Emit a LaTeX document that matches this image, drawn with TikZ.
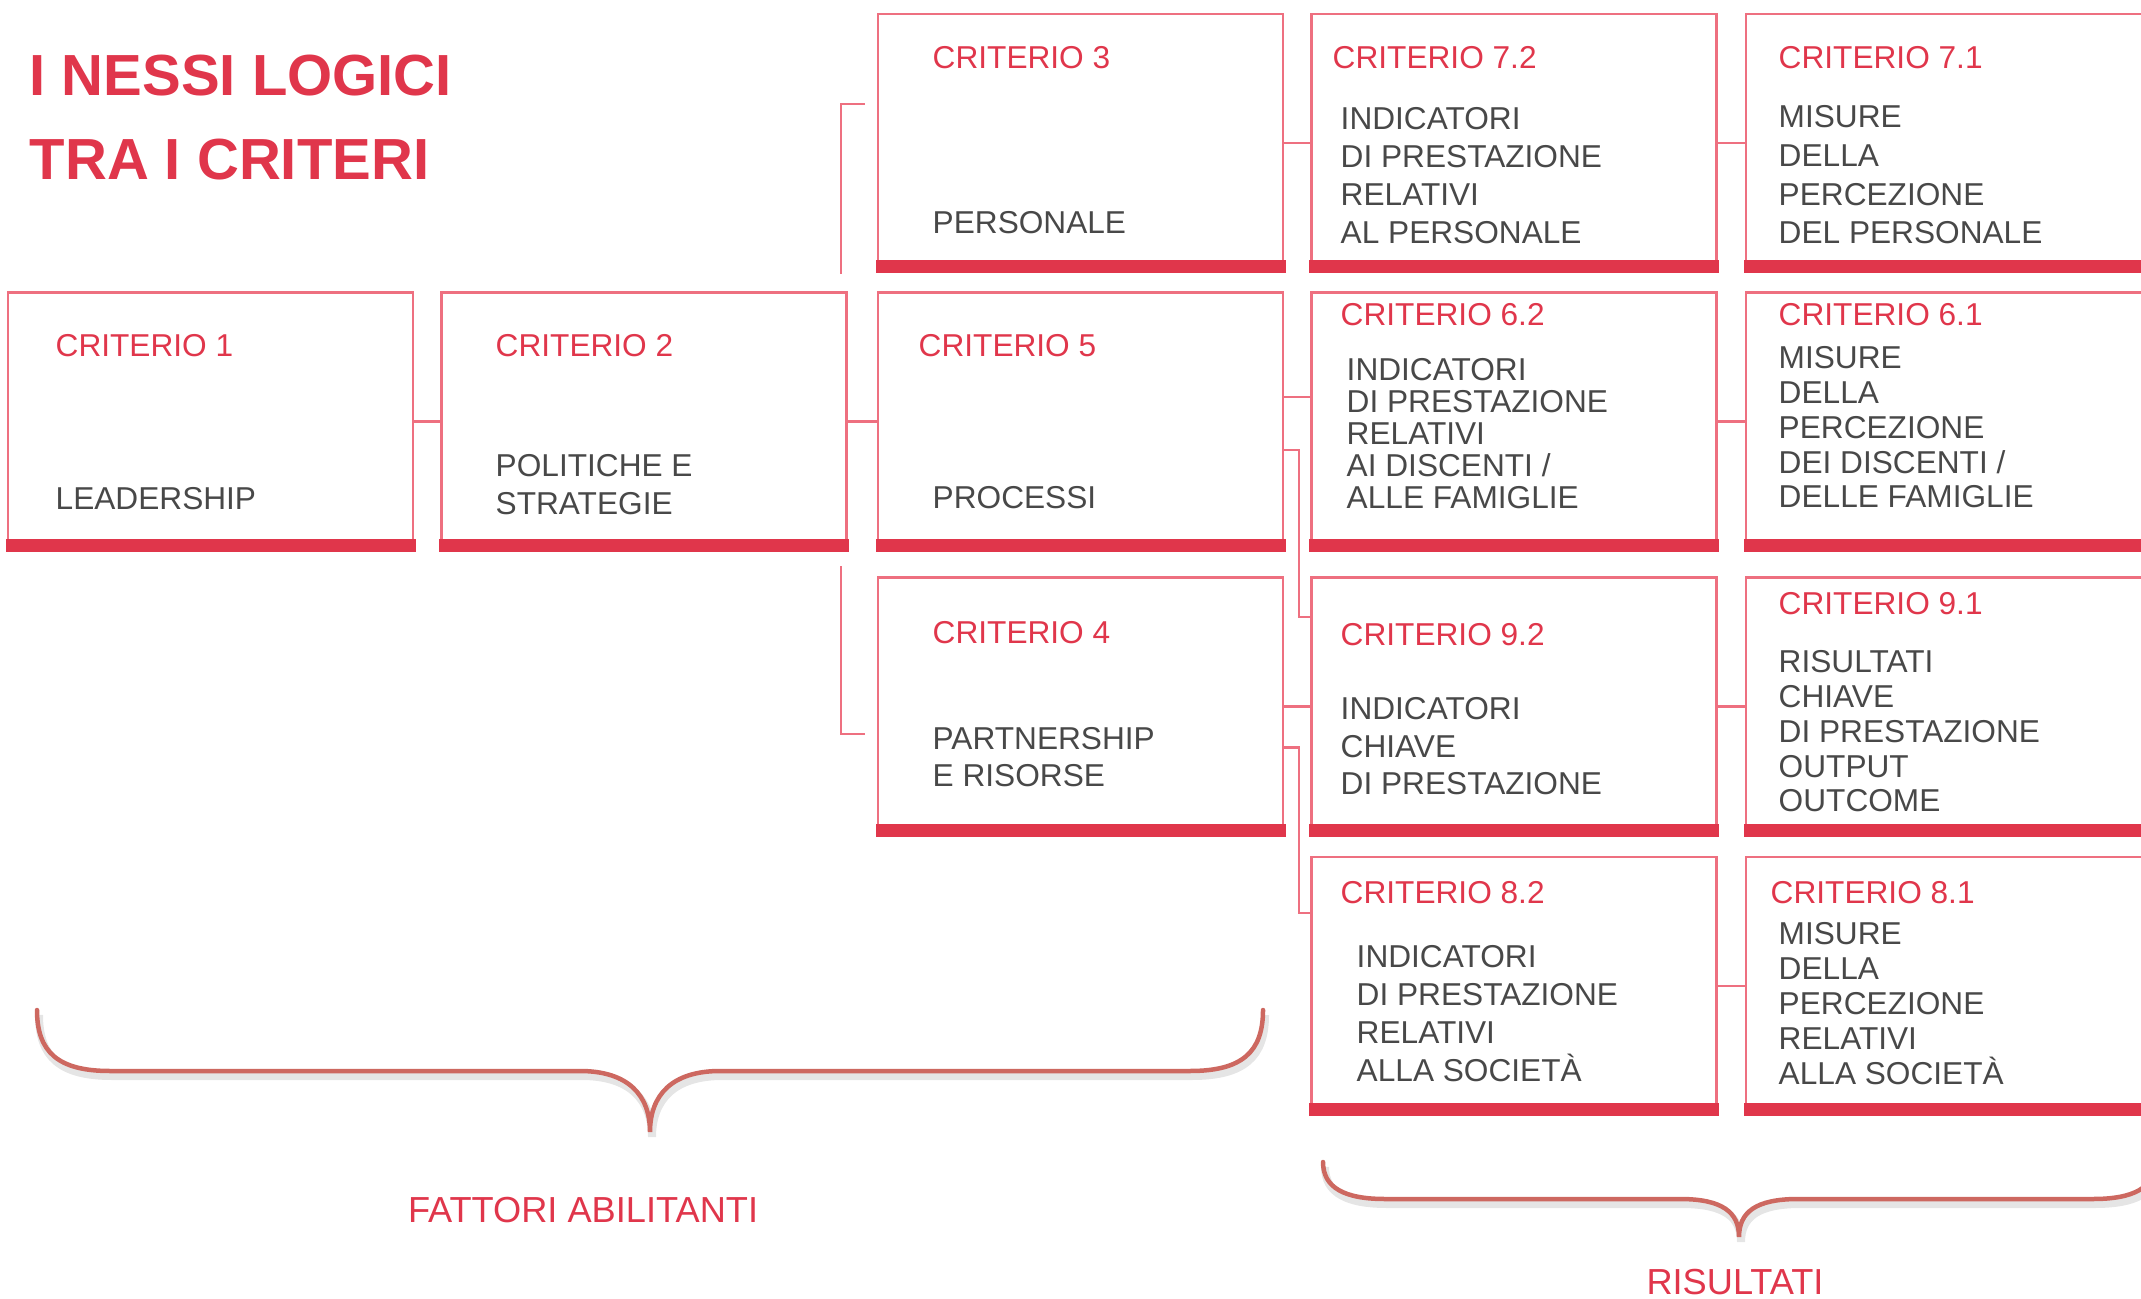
\documentclass[tikz,border=0pt]{standalone}
\usepackage{fontspec}
\setmainfont{Liberation Sans}
\usetikzlibrary{calc}

\definecolor{rosso}{RGB}{224,54,75}
\definecolor{bordo}{RGB}{238,112,128}
\definecolor{grigio}{RGB}{72,72,72}
\definecolor{rossograffa}{RGB}{205,104,96}

\begin{document}
\begin{tikzpicture}[x=0.1mm, y=-0.1mm]
        \tikzset{
            crit/.style={
                draw=bordo,
                line width=0.25mm,
                minimum width=40.5mm,
                minimum height=25.8mm,
                inner sep=0
            },
            barra/.style={fill=rosso},
            nesso/.style={draw=bordo, line width=0.22mm},
            testa/.style={text=rosso, font=\fontsize{9pt}{11pt}\selectfont, anchor=north west, inner sep=0},
            voce/.style={text=grigio, font=\fontsize{9pt}{#1}\selectfont, anchor=north west, align=left, inner sep=0},
            voce/.default=10.8pt,
            titolo/.style={text=rosso, font=\fontsize{16.5pt}{23.9pt}\selectfont\bfseries, anchor=north west, align=left, inner sep=0},
            etichetta/.style={text=rosso, font=\fontsize{10.3pt}{12pt}\selectfont, anchor=north, inner sep=0},
            graffa/.style={draw=rossograffa, line width=0.45mm, line cap=round,
                preaction={draw=black!10, line width=0.8mm, transform canvas={shift={(0.2mm,-0.5mm)}}}}
        }
        \useasboundingbox (0,0) rectangle (2141,1299);

        \node[titolo] (tit) at (29,54) {I NESSI LOGICI\\TRA I CRITERI};

        % fattori abilitanti
        \node[crit] (c1) at (210.5,421.5) {};
        \node[crit] (c2) at (644,421.5) {};
        \node[crit] (c3) at (1080.5,143) {};
        \node[crit] (c5) at (1080.5,421.5) {};
        \node[crit] (c4) at (1080.5,706.5) {};

        % risultati
        \node[crit] (c72) at (1514,143) {};
        \node[crit] (c62) at (1514,421.5) {};
        \node[crit] (c92) at (1514,706.5) {};
        \node[crit] (c82) at (1514,986) {};
        \node[crit] (c71) at (1948.5,143) {};
        \node[crit] (c61) at (1948.5,421.5) {};
        \node[crit] (c91) at (1948.5,706.5) {};
        \node[crit] (c81) at (1948.5,986) {};

        \foreach \n in {c1,c2,c3,c5,c4,c72,c62,c92,c82,c71,c61,c91,c81}
            \fill[barra] ([xshift=-0.125mm]\n.south west) rectangle ([xshift=0.125mm,yshift=1.3mm]\n.south east);

        \draw[nesso] (c1) -- (c2);
        \draw[nesso] (c2) -- (c5);
        \draw[nesso] ($(c3.north west)+(-12,91)$) -- ++(-24,0) -- ($(c3.south west)+(-36,1)$);
        \draw[nesso] ($(c4.north west)+(-36,-10)$) -- ($(c4.north west)+(-36,158)$) -- ++(24,0);
        \draw[nesso] (c3) -- (c72);
        \draw[nesso] (c72) -- (c71);
        \draw[nesso] ([yshift=2.45mm]c5.east) -- ([yshift=2.45mm]c62.west);
        \draw[nesso] ([yshift=-2.85mm]c5.east) -- ++(15,0) |- ([yshift=8.95mm]c92.west);
        \draw[nesso] (c62) -- (c61);
        \draw[nesso] (c4) -- (c92);
        \draw[nesso] ([yshift=-4.1mm]c4.east) -- ++(15,0) |- ([yshift=7.3mm]c82.west);
        \draw[nesso] (c92) -- (c91);
        \draw[nesso] (c82) -- (c81);

        \node[testa] (t1) at (55,334) {CRITERIO 1};
        \node[voce] (v1) at (55,487) {LEADERSHIP};
        \node[testa] (t2) at (495,334) {CRITERIO 2};
        \node[voce] (v2) at (495,454) {POLITICHE E\\STRATEGIE};
        \node[testa] (t3) at (932,46) {CRITERIO 3};
        \node[voce] (v3) at (932,211) {PERSONALE};
        \node[testa] (t5) at (918,334) {CRITERIO 5};
        \node[voce] (v5) at (932,486) {PROCESSI};
        \node[testa] (t4) at (932,621) {CRITERIO 4};
        \node[voce=10.5pt] (v4) at (932,727) {PARTNERSHIP\\E RISORSE};

        \node[testa] (t72) at (1332,46) {CRITERIO 7.2};
        \node[voce] (v72) at (1340,107) {INDICATORI\\DI PRESTAZIONE\\RELATIVI\\AL PERSONALE};
        \node[testa] (t62) at (1340,303) {CRITERIO 6.2};
        \node[voce=9.1pt] (v62) at (1346,358) {INDICATORI\\DI PRESTAZIONE\\RELATIVI\\AI DISCENTI /\\ALLE FAMIGLIE};
        \node[testa] (t92) at (1340,623) {CRITERIO 9.2};
        \node[voce=10.6pt] (v92) at (1340,697) {INDICATORI\\CHIAVE\\DI PRESTAZIONE};
        \node[testa] (t82) at (1340,881) {CRITERIO 8.2};
        \node[voce] (v82) at (1356,945) {INDICATORI\\DI PRESTAZIONE\\RELATIVI\\ALLA SOCIETÀ};

        \node[testa] (t71) at (1778,46) {CRITERIO 7.1};
        \node[voce=11pt] (v71) at (1778,105) {MISURE\\DELLA\\PERCEZIONE\\DEL PERSONALE};
        \node[testa] (t61) at (1778,303) {CRITERIO 6.1};
        \node[voce=9.9pt] (v61) at (1778,346) {MISURE\\DELLA\\PERCEZIONE\\DEI DISCENTI /\\DELLE FAMIGLIE};
        \node[testa] (t91) at (1778,592) {CRITERIO 9.1};
        \node[voce=9.9pt] (v91) at (1778,650) {RISULTATI\\CHIAVE\\DI PRESTAZIONE\\OUTPUT\\OUTCOME};
        \node[testa] (t81) at (1770,881) {CRITERIO 8.1};
        \node[voce=9.96pt] (v81) at (1778,922) {MISURE\\DELLA\\PERCEZIONE\\RELATIVI\\ALLA SOCIETÀ};

        % graffe
        \draw[graffa] (37,1010) .. controls (37,1052) and (58,1071) .. (110,1071)
            -- (580,1071) .. controls (628,1071) and (650,1095) .. (650,1132)
            .. controls (650,1095) and (672,1071) .. (720,1071)
            -- (1190,1071) .. controls (1242,1071) and (1263,1052) .. (1263,1010);
        \draw[graffa] (1323,1162) .. controls (1323,1188) and (1345,1199) .. (1385,1199)
            -- (1680,1199) .. controls (1722,1199) and (1739,1212) .. (1739,1237)
            .. controls (1739,1212) and (1756,1199) .. (1798,1199)
            -- (2093,1199) .. controls (2133,1199) and (2155,1188) .. (2155,1162);

        \node[etichetta] (fa) at (583,1197) {FATTORI ABILITANTI};
        \node[etichetta] (ri) at (1735,1269) {RISULTATI};

    \end{tikzpicture}
\end{document}
